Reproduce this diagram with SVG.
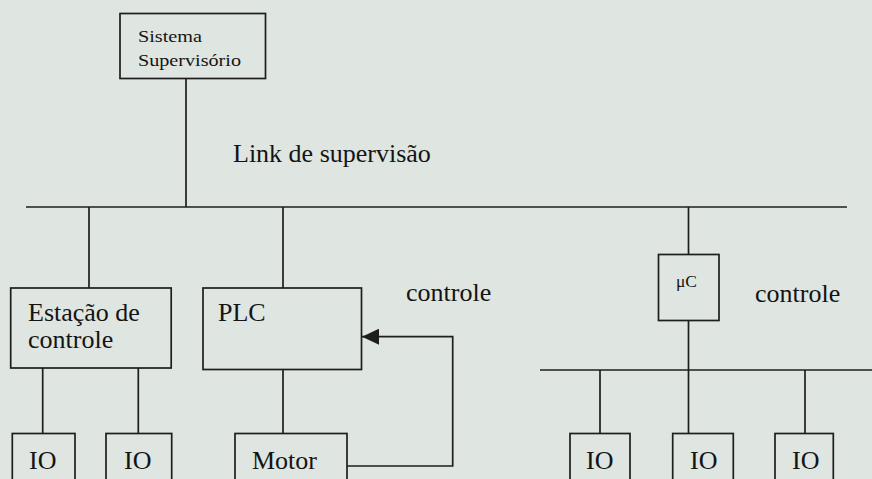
<svg xmlns="http://www.w3.org/2000/svg" width="872" height="479" viewBox="0 0 872 479">
  <defs>
    <style>
      .box { fill: none; stroke: #1e1e1e; stroke-width: 1.7; }
      .wire { fill: none; stroke: #1e1e1e; stroke-width: 1.7; }
      text { font-family: "Liberation Serif", "Times New Roman", serif; fill: #141414; }
      .big { font-size: 26px; }
      .small { font-size: 17px; }
    </style>
    <!-- filled arrowhead, tip at the end of the path -->
    <marker id="arrow" viewBox="0 0 17 16" refX="17" refY="8" markerWidth="17" markerHeight="16" markerUnits="userSpaceOnUse" orient="auto">
      <path d="M0,0 L17,8 L0,16 Z" fill="#1e1e1e"/>
    </marker>
  </defs>

  <rect x="0" y="0" width="872" height="479" fill="#dfe5e1"/>

  <!-- connectors -->
  <g id="connectors">
    <line class="wire" x1="186" y1="78.5" x2="186" y2="207"/>
    <line class="wire" x1="26" y1="207" x2="847" y2="207"/>
    <line class="wire" x1="89" y1="207" x2="89" y2="288"/>
    <line class="wire" x1="283" y1="207" x2="283" y2="288"/>
    <line class="wire" x1="688.5" y1="207" x2="688.5" y2="254.5"/>
    <line class="wire" x1="42.7" y1="368" x2="42.7" y2="433.5"/>
    <line class="wire" x1="138.3" y1="368" x2="138.3" y2="433.5"/>
    <line class="wire" x1="283" y1="369.5" x2="283" y2="433.5"/>
    <path class="wire" d="M347 466 H452.7 V336.7 H362" marker-end="url(#arrow)"/>
    <line class="wire" x1="688.5" y1="320.5" x2="688.5" y2="370"/>
    <line class="wire" x1="540" y1="370" x2="872" y2="370"/>
    <line class="wire" x1="600" y1="370" x2="600" y2="433.5"/>
    <line class="wire" x1="805" y1="370" x2="805" y2="433.5"/>
    <line class="wire" x1="688.5" y1="370" x2="688.5" y2="433.5"/>
  </g>

  <text class="big" x="233" y="162">Link de supervisão</text>
  <text class="big" x="406" y="301">controle</text>
  <text class="big" x="755" y="302">controle</text>

  <g id="supervisorio">
    <rect class="box" x="120" y="13.5" width="145.5" height="65"/>
    <text class="small" x="138" y="42" textLength="64" lengthAdjust="spacingAndGlyphs">Sistema</text>
    <text class="small" x="138" y="65.5" textLength="103" lengthAdjust="spacingAndGlyphs">Supervisório</text>
  </g>

  <g id="estacao">
    <rect class="box" x="10.7" y="288" width="160.5" height="80"/>
    <text class="big" x="28" y="321">Estação de</text>
    <text class="big" x="28" y="348">controle</text>
  </g>

  <g id="plc">
    <rect class="box" x="203" y="288" width="158.5" height="81.5"/>
    <text class="big" x="218" y="321">PLC</text>
  </g>

  <g id="uc">
    <rect class="box" x="658.5" y="254.5" width="60.5" height="66"/>
    <text class="small" x="676" y="287" textLength="21" lengthAdjust="spacingAndGlyphs">μC</text>
  </g>

  <g id="io1">
    <rect class="box" x="12.3" y="433.5" width="62.7" height="60"/>
    <text class="big" x="29" y="469">IO</text>
  </g>

  <g id="io2">
    <rect class="box" x="106" y="433.5" width="65.7" height="60"/>
    <text class="big" x="124" y="469">IO</text>
  </g>

  <g id="motor">
    <rect class="box" x="235" y="433.5" width="112" height="60"/>
    <text class="big" x="252" y="469">Motor</text>
  </g>

  <g id="io3">
    <rect class="box" x="570" y="433.5" width="60" height="60"/>
    <text class="big" x="586" y="469">IO</text>
  </g>

  <g id="io4">
    <rect class="box" x="672.7" y="433.5" width="60.6" height="60"/>
    <text class="big" x="690" y="469">IO</text>
  </g>

  <g id="io5">
    <rect class="box" x="775" y="433.5" width="58.3" height="60"/>
    <text class="big" x="792" y="469">IO</text>
  </g>
</svg>
